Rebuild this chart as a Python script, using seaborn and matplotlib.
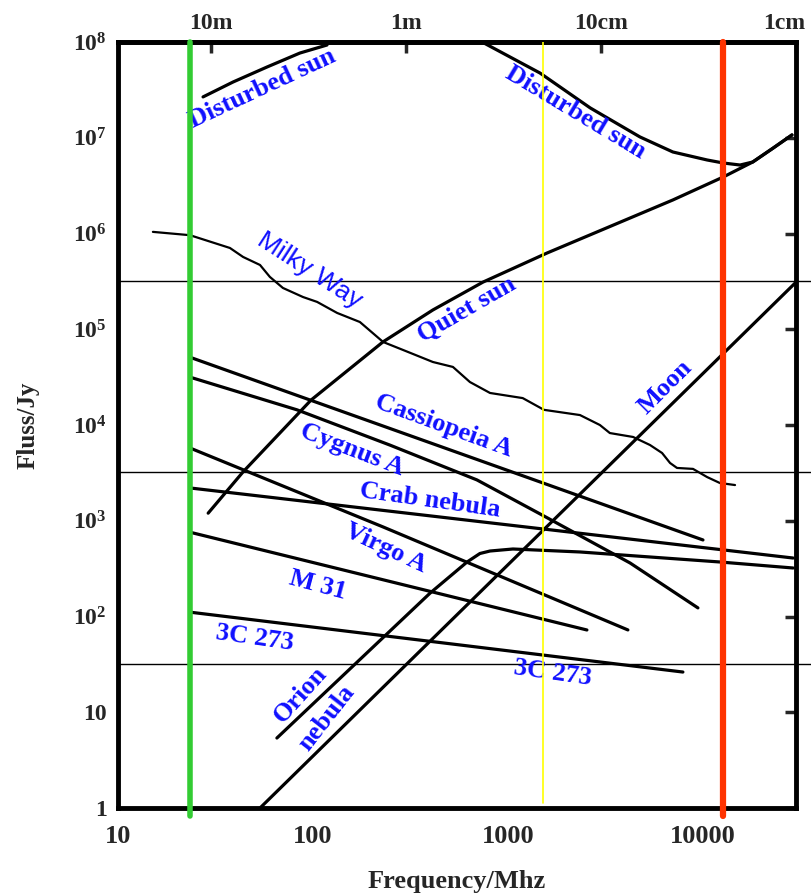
import numpy as np
import pandas as pd
import matplotlib
matplotlib.use("Agg")
import matplotlib.pyplot as plt
from matplotlib.ticker import NullLocator
from matplotlib.transforms import ScaledTranslation
import seaborn as sns

# curves: frequency in MHz, flux in Jy
dist_sun_low_f = [27.3, 38.9, 58.1, 85.7, 118]
dist_sun_low_s = [2.67e7, 3.82e7, 5.48e7, 7.67e7, 9.3e7]

dist_sun_high_f = [750, 1460, 2640, 4750, 7010, 10500, 12700, 15500, 18000, 22900, 28600]
dist_sun_high_s = [9.8e7, 4.74e7, 2.05e7, 1.02e7, 7.1e6, 5.86e6, 5.45e6, 5.19e6, 5.58e6, 7.8e6, 1.07e7]

quiet_sun_f = [29, 43.8, 97.7, 229, 412, 745, 1585, 7010, 12700, 18000, 22900, 28600]
quiet_sun_s = [1200, 3240, 1.82e4, 7.4e4, 1.59e5, 3.11e5, 6.25e5, 2.24e6, 3.89e6, 5.58e6, 7.8e6, 1.07e7]

milky_way_f = [15.1, 23.4, 37.5, 43.8, 53.5, 60.1, 70.1, 88.9, 105, 133, 174, 229, 290, 412,
               522, 638, 809, 1190, 1530, 2340, 2960, 3330, 4380, 5350, 6170, 6780, 7360,
               8890, 10500, 12200, 14600]
milky_way_s = [1.04e6, 9.6e5, 7.06e5, 5.69e5, 4.69e5, 3.52e5, 2.70e5, 2.17e5, 1.93e5, 1.48e5,
               1.19e5, 7.36e4, 6.07e4, 4.55e4, 4.04e4, 2.81e4, 2.16e4, 1.91e4, 1.44e4, 1.27e4,
               1.0e4, 8.24e3, 7.5e3, 6.18e3, 5.1e3, 4.01e3, 3.56e3, 3.48e3, 2.86e3, 2.48e3, 2.36e3]

cas_a_f = [23.4, 10000]
cas_a_s = [5.1e4, 630]

cyg_a_f = [23.4, 82.8, 248, 693, 1530, 4230, 9420]
cyg_a_s = [3.16e4, 1.44e4, 6170, 2670, 1120, 362, 123]

crab_f = [23.4, 29000]
crab_s = [2200, 408]

virgo_a_f = [23.4, 229, 4120]
virgo_a_s = [5750, 861, 72.4]

m31_f = [23.4, 2540]
m31_s = [759, 72.3]

c3_273_f = [23.4, 7890]
c3_273_s = [111, 26.3]

orion_f = [65.3, 398, 617, 718, 809, 1060, 2340, 12200, 29000]
orion_s = [5.38, 175, 371, 455, 483, 507, 472, 371, 321]

moon_f = [53.5, 30000]
moon_s = [1, 3.1e5]

# guide lines
hlines_jy = [3.2e5, 3.2e3, 32]
green_mhz = 23.4
yellow_mhz = 1520
red_mhz = 12600

# top axis wavelengths (m) and names
wave_m = [10, 1, 0.1, 0.01]
wave_names = ["10m", "1m", "10cm", "1cm"]

y_ticks = [1, 10, 1e2, 1e3, 1e4, 1e5, 1e6, 1e7, 1e8]
y_tick_labels = ["1", "10", r"$10^{2}$", r"$10^{3}$", r"$10^{4}$", r"$10^{5}$",
                 r"$10^{6}$", r"$10^{7}$", r"$10^{8}$"]
x_ticks = [10, 100, 1000, 10000]
x_tick_labels = ["10", "100", "1000", "10000"]

# label text, position (MHz, Jy), rotation, font
labels = [
    ("Disturbed sun", 54.7, 3.3e7, 25, "serif"),
    ("Disturbed sun", 2230, 1.86e7, -31, "serif"),
    ("Milky Way", 96.6, 4.16e5, -33, "sans"),
    ("Quiet sun", 617, 1.59e5, 30, "serif"),
    ("Cassiopeia A", 470, 9770, -20, "serif"),
    ("Cygnus A", 158, 5480, -21, "serif"),
    ("Crab nebula", 398, 1650, -8, "serif"),
    ("Virgo A", 237, 519, -25, "serif"),
    ("M 31", 106, 213, -15, "serif"),
    ("3C 273", 50.5, 59.7, -8, "serif"),
    ("3C 273", 1700, 25.7, -8, "serif"),
    ("Orion", 85.7, 15.1, 48, "serif"),
    ("nebula", 117, 8.7, 52, "serif"),
    ("Moon", 6380, 2.5e4, 45, "serif"),
]

sns.set_style("white")
plt.rcParams["font.family"] = ["Liberation Serif", "DejaVu Serif"]
plt.rcParams["font.weight"] = "bold"
plt.rcParams["axes.labelweight"] = "bold"
plt.rcParams["mathtext.fontset"] = "custom"
plt.rcParams["mathtext.rm"] = "Liberation Serif:bold"
plt.rcParams["mathtext.it"] = "Liberation Serif:bold"
plt.rcParams["mathtext.bf"] = "Liberation Serif:bold"

fig = plt.figure(figsize=(8.12, 8.93), dpi=100)
ax = fig.add_axes([118 / 812, 1 - 808 / 893, 678 / 812, 766 / 893])
ax.set_xscale("log")
ax.set_yscale("log")

curves = [
    (dist_sun_low_f, dist_sun_low_s, 2.3),
    (dist_sun_high_f, dist_sun_high_s, 2.3),
    (quiet_sun_f, quiet_sun_s, 2.3),
    (milky_way_f, milky_way_s, 1.6),
    (cas_a_f, cas_a_s, 2.3),
    (cyg_a_f, cyg_a_s, 2.3),
    (crab_f, crab_s, 2.3),
    (virgo_a_f, virgo_a_s, 2.3),
    (m31_f, m31_s, 2.3),
    (c3_273_f, c3_273_s, 2.3),
    (orion_f, orion_s, 2.3),
    (moon_f, moon_s, 2.3),
]
for f, s, lw in curves:
    df = pd.DataFrame({"freq": f, "flux": s})
    sns.lineplot(data=df, x="freq", y="flux", sort=False, estimator=None,
                 color="black", lw=lw, ax=ax)

for h in hlines_jy:
    ax.axhline(h, xmin=0, xmax=1.03, color="black", lw=1.0, clip_on=False, zorder=3)

ax.axvline(green_mhz, ymin=-0.01, ymax=1, color="#33cc33", lw=4, clip_on=False, zorder=5)
ax.axvline(yellow_mhz, ymin=0.007, ymax=1, color="#ffff00", lw=1.2, zorder=5)
ax.axvline(red_mhz, ymin=-0.01, ymax=1, color="#ff3300", lw=4.5, clip_on=False, zorder=5)

for text, fx, fy, rot, fam in labels:
    if fam == "sans":
        family = ["Liberation Sans", "DejaVu Sans"]
        weight = "normal"
    else:
        family = ["Liberation Serif", "DejaVu Serif"]
        weight = "bold"
    ax.text(fx, fy, text, color="#1010ff", fontsize=19, family=family, weight=weight,
            rotation=rot, rotation_mode="anchor", ha="center", va="center", zorder=4)

ax.set_xlim(10, 30000)
ax.set_ylim(1, 1e8)
ax.set_xticks(x_ticks)
ax.set_xticklabels(x_tick_labels)
ax.set_yticks(y_ticks)
ax.set_yticklabels(y_tick_labels)
ax.xaxis.set_minor_locator(NullLocator())
ax.yaxis.set_minor_locator(NullLocator())
ax.tick_params(axis="both", direction="in", length=8, width=2.5,
               right=True, top=False)
ax.tick_params(axis="y", labelsize=17, pad=8)
ax.tick_params(axis="x", labelsize=19, pad=12)
ax.set_xlabel("Frequency/Mhz", fontsize=19, fontweight="bold", labelpad=16)
ax.set_ylabel("Fluss/Jy", fontsize=18, fontweight="bold", labelpad=24)

for sp in ax.spines.values():
    sp.set_linewidth(3.5)
    sp.set_color("black")

sec = ax.secondary_xaxis("top", functions=(lambda f: 300.0 / f, lambda w: 300.0 / w))
sec.set_xticks(wave_m)
sec.set_xticklabels(wave_names)
sec.xaxis.set_minor_locator(NullLocator())
sec.tick_params(direction="in", length=8, width=2.5, labelsize=17, pad=6)
sec.spines["top"].set_linewidth(3.5)
last = sec.get_xticklabels()[-1]
last.set_transform(last.get_transform() + ScaledTranslation(-0.12, 0, fig.dpi_scale_trans))

fig.savefig("out.png", dpi=100)
